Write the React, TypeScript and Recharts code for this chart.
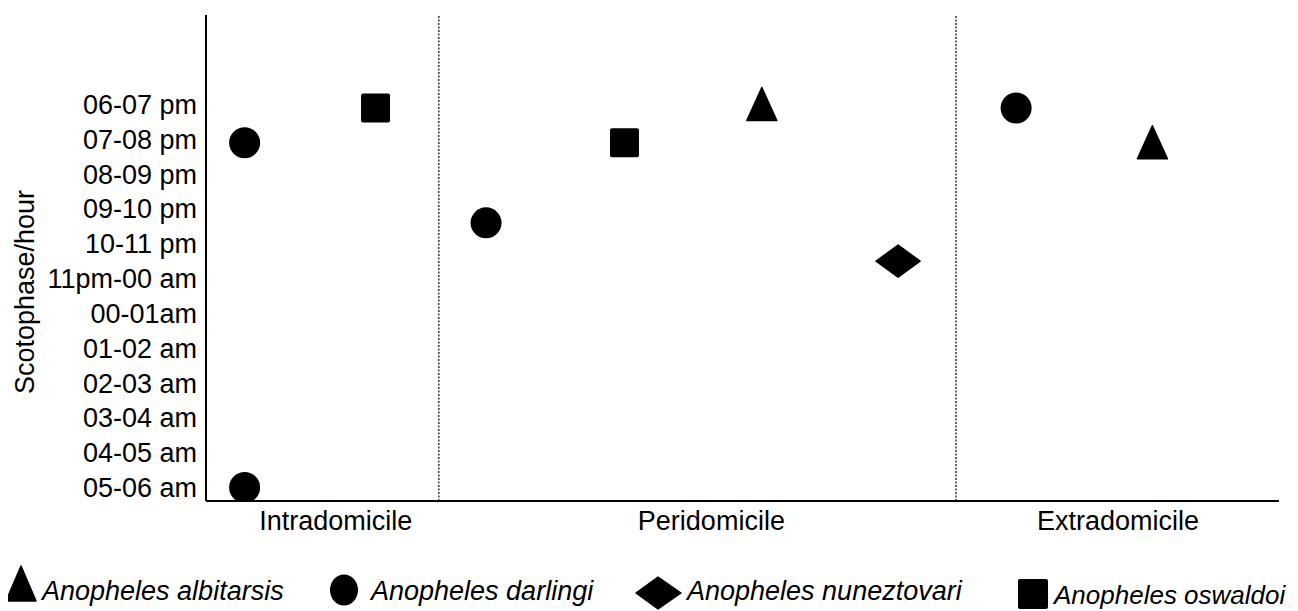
import React from 'react';
import {
  ScatterChart,
  Scatter,
  XAxis,
  YAxis,
  ReferenceLine,
  Legend,
} from 'recharts';

// Scotophase slots, top to bottom
const slots = [
  '06-07 pm',
  '07-08 pm',
  '08-09 pm',
  '09-10 pm',
  '10-11 pm',
  '11pm-00 am',
  '00-01am',
  '01-02 am',
  '02-03 am',
  '03-04 am',
  '04-05 am',
  '05-06 am',
];

const zones = ['Intradomicile', 'Peridomicile', 'Extradomicile'];
const zoneTickX = [12.1, 47.1, 85.0];
const zoneBounds = [21.7, 69.9];

// species positions (x = place across the three zones, y = slot index)
const albitarsisX = [51.8, 88.2];
const albitarsisY = [0, 1.1];
const darlingiX = [3.6, 3.6, 26.1, 75.5];
const darlingiY = [1.1, 11, 3.4, 0.1];
const nuneztovariX = [64.5];
const nuneztovariY = [4.5];
const oswaldoiX = [15.8, 39.0];
const oswaldoiY = [0.1, 1.1];

const toPoints = (xs: number[], ys: number[]) => xs.map((x, i) => ({ x, y: ys[i] }));

const FONT = '"Liberation Sans", Arial, sans-serif';
const INK = '#000';

const Triangle = ({ cx, cy }: any) => (
  <path d={`M${cx},${cy - 17} L${cx + 15},${cy + 16} L${cx - 15},${cy + 16} Z`} fill={INK} strokeLinejoin="round" stroke={INK} strokeWidth={1.5} />
);
const Dot = ({ cx, cy }: any) => <circle cx={cx} cy={cy} r={15.5} fill={INK} />;
const Diamond = ({ cx, cy }: any) => (
  <path d={`M${cx - 22},${cy} L${cx},${cy - 16} L${cx + 22},${cy} L${cx},${cy + 16} Z`} fill={INK} strokeLinejoin="round" stroke={INK} strokeWidth={1.5} />
);
const Square = ({ cx, cy }: any) => <rect x={cx - 14.5} y={cy - 14.5} width={29} height={29} rx={2} fill={INK} />;

const legendText = { fontFamily: FONT, fontSize: 27, fontStyle: 'italic' as const, fill: INK };

const renderLegend = () => (
  <svg width={1290} height={70} style={{ overflow: 'visible', display: 'block' }}>
    <path d="M13,25 L28,60 L-2,60 Z" fill={INK} stroke={INK} strokeLinejoin="round" strokeWidth={1.5} />
    <text x={34} y={59} {...legendText}>Anopheles albitarsis</text>
    <ellipse cx={336} cy={49} rx={14} ry={15.5} fill={INK} />
    <text x={363} y={59} {...legendText}>Anopheles darlingi</text>
    <path d="M628,52 L650,36 L673,52 L650,68 Z" fill={INK} stroke={INK} strokeLinejoin="round" strokeWidth={1.5} />
    <text x={679} y={59} {...legendText}>Anopheles nuneztovari</text>
    <rect x={1010} y={38} width={30} height={30} rx={2} fill={INK} />
    <text x={1046} y={63} {...legendText} fontSize={26}>Anopheles oswaldoi</text>
  </svg>
);

const YLabel = () => (
  <text
    x={17}
    y={284}
    transform="rotate(-90, 17, 284)"
    textAnchor="middle"
    dominantBaseline="central"
    style={{ fontFamily: FONT, fontSize: 27, fill: INK }}
  >
    Scotophase/hour
  </text>
);

export default function App() {
  const tickStyle = { fontFamily: FONT, fontSize: 27, fill: INK };
  return (
    <div style={{ width: 1290, height: 603 }}>
      <ScatterChart width={1290} height={603} margin={{ top: 7, right: 19, left: 0, bottom: 0 }}>
        <XAxis
          type="number"
          dataKey="x"
          domain={[0, 100]}
          ticks={zoneTickX}
          tickFormatter={(v: number) => zones[zoneTickX.indexOf(v)]}
          interval={0}
          allowDataOverflow
          height={40}
          tickLine={false}
          tickSize={8}
          tickMargin={2}
          axisLine={{ stroke: INK, strokeWidth: 2 }}
          tick={tickStyle}
        />
        <YAxis
          type="number"
          dataKey="y"
          reversed
          domain={[-2.57, 11.39]}
          ticks={slots.map((_, i) => i)}
          tickFormatter={(v: number) => slots[v]}
          interval={0}
          allowDataOverflow
          width={198}
          tickLine={false}
          tickSize={7}
          tickMargin={2}
          axisLine={{ stroke: INK, strokeWidth: 2 }}
          tick={tickStyle}
          label={<YLabel />}
        />
        {zoneBounds.map((b) => (
          <ReferenceLine key={b} x={b} stroke="#333" strokeWidth={1.5} strokeDasharray="2 1.5" />
        ))}
        <Legend verticalAlign="bottom" content={renderLegend} wrapperStyle={{ width: 1290, height: 70, left: 0 }} />
        <Scatter name="Anopheles albitarsis" data={toPoints(albitarsisX, albitarsisY)} shape={<Triangle />} isAnimationActive={false} />
        <Scatter name="Anopheles darlingi" data={toPoints(darlingiX, darlingiY)} shape={<Dot />} isAnimationActive={false} />
        <Scatter name="Anopheles nuneztovari" data={toPoints(nuneztovariX, nuneztovariY)} shape={<Diamond />} isAnimationActive={false} />
        <Scatter name="Anopheles oswaldoi" data={toPoints(oswaldoiX, oswaldoiY)} shape={<Square />} isAnimationActive={false} />
      </ScatterChart>
    </div>
  );
}
